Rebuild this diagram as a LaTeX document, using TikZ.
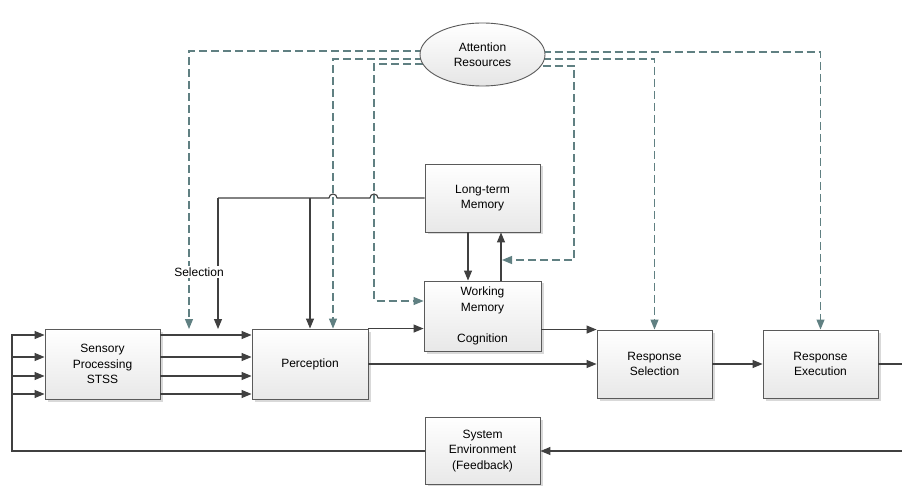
\documentclass[tikz,border=0pt]{standalone}
\usepackage{fontspec}
\setmainfont{Liberation Sans}
\usetikzlibrary{arrows.meta,shadows,backgrounds,shapes.geometric}
\definecolor{linec}{RGB}{64,64,64}
\definecolor{dashc}{RGB}{96,128,130}
\definecolor{boxb}{RGB}{90,90,90}
\begin{document}
\begin{tikzpicture}[x=1pt,y=-1pt,
  txt/.style={font=\fontsize{12}{15.5}\selectfont},
  box/.style={txt, draw=boxb, line width=0.9pt, top color=white, bottom color=black!9,
    drop shadow={shadow xshift=2.5pt, shadow yshift=-2.5pt, fill=black!15, opacity=1},
    align=center, inner sep=0pt, minimum width=115pt, minimum height=69pt},
  conn/.style={draw=linec, line width=1.1pt},
  arr/.style={conn, -{Triangle[length=10pt,width=8pt]}},
  dconn/.style={draw=dashc, line width=1.1pt, dash pattern=on 8pt off 4pt},
  darr/.style={dconn, -{Triangle[length=10pt,width=8pt]}},
]
\begin{pgfonlayer}{background}
\fill[white] (0,0) rectangle (902,486);
\end{pgfonlayer}
\useasboundingbox (0,0) rectangle (902,486);

% boxes
\node[box, minimum width=115pt, minimum height=70pt] (sen) at (102.5,364) {Sensory\\Processing\\STSS};
\node[box, minimum width=116pt, minimum height=70pt] (per) at (310,364) {Perception};
\node[box, minimum height=68pt] (ltm) at (482.5,198) {Long-term\\Memory};
\node[box, minimum width=117pt, minimum height=70pt] (wm) at (482.5,316) {Working\\Memory\\[15.5pt]Cognition};
\node[box, minimum height=68pt] (rs) at (654.5,364) {Response\\Selection};
\node[box, minimum height=68pt] (re) at (820.5,364) {Response\\Execution};
\node[box, minimum height=67pt] (sys) at (482.5,451) {System\\Environment\\(Feedback)};
\node[txt, ellipse, draw=boxb, line width=0.9pt, top color=white, bottom color=black!10,
  minimum width=125pt, minimum height=63pt, inner sep=0pt, align=center] (att) at (482.5,54.5) {Attention\\Resources};

% coordinates for free ends and junctions
\coordinate (dA) at (189,329);
\coordinate (dB) at (502,260);
\coordinate (j1) at (218,198);
\coordinate (j2) at (310,198);
\coordinate (sA) at (218,329);

% dashed attention connectors
\begin{scope}[on background layer]
\draw[darr] (att.center |- 0,51) -| (dA);
\draw[darr] (att.center |- 0,59) -| (per.north -| 333,0);
\draw[darr] (att.center |- 0,64) -| (374,301) -- (wm.west |- 0,301);
\draw[darr] (att.center |- 0,52) -| (re.north);
\draw[darr] (att.center |- 0,59) -| (rs.north);
\draw[darr] (att.center |- 0,66) -| (574,260) -- (dB);
\end{scope}

% selection lines from long-term memory
\draw[conn] (ltm.west) -- (378,198) arc[start angle=0,end angle=180,radius=4pt]
  -- (337,198) arc[start angle=0,end angle=180,radius=4pt] -- (j1);
\draw[arr] (j1) -- (sA);
\draw[arr] (j2) -- (per.north);
\node[txt, fill=white, inner sep=1.5pt] (sel) at (199,272) {Selection};

% memory exchange
\draw[arr] (ltm.south -| 468,0) -- (wm.north -| 468,0);
\draw[arr] (wm.north -| 501,0) -- (ltm.south -| 501,0);

% sensory inputs and outputs
\draw[arr] (sys.west) -| (12,335) -- (sen.west |- 0,335);
\foreach \yy in {357,376,394} {\draw[arr] (12,\yy) -- (sen.west |- 0,\yy);}
\foreach \yy in {335,357,376,394} {\draw[arr] (sen.east |- 0,\yy) -- (per.west |- 0,\yy);}

% main flow
\draw[arr] (per.north east) -- (per.north east -| wm.west);
\draw[arr] (rs.north west -| wm.east) -- (rs.north west);
\draw[arr] (per.east) -- (rs.west);
\draw[arr] (rs.east) -- (re.west);
\draw[arr] (re.east) -- (906,364) -- (906,451) -- (sys.east);
\end{tikzpicture}
\end{document}
